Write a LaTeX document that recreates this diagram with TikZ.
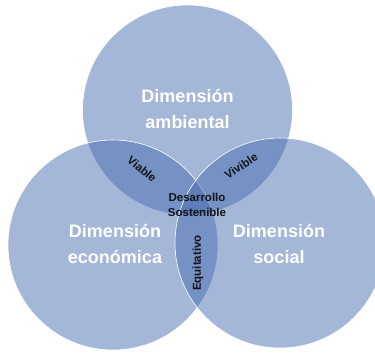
\documentclass[tikz,border=0pt]{standalone}
\usepackage{fontspec}
\setmainfont{Liberation Sans}
\definecolor{dimblue}{RGB}{67,104,174}
\definecolor{lensblack}{RGB}{20,20,25}
\begin{document}
\begin{tikzpicture}[x=1pt,y=-1pt,
    dimension/.style={fill=dimblue,fill opacity=0.48,draw=white,line width=0.6pt},
    dimlabel/.style={text=white,font=\bfseries\fontsize{18}{26}\selectfont,align=center},
    lenslabel/.style={text=lensblack,font=\bfseries\fontsize{11.5}{15}\selectfont,align=center}]
    \useasboundingbox (0,0) rectangle (375,353);
    \clip (0,0) rectangle (375,353);

    \filldraw[dimension] (187.5,110) circle [radius=105pt];
    \filldraw[dimension] (113,245) circle [radius=105pt];
    \filldraw[dimension] (280,243) circle [radius=105pt];

    \node[dimlabel] (ambiental) at (187.5,109) {Dimensión\\ambiental};
    \node[dimlabel] (economica) at (115,244) {Dimensión\\económica};
    \node[dimlabel] (social) at (279,244) {Dimensión\\social};

    \node[lenslabel,rotate=-40] (viable) at (142,169) {Viable};
    \node[lenslabel,rotate=33] (vivible) at (241,166) {Vivible};
    \node[lenslabel,rotate=90] (equitativo) at (198,263) {Equitativo};
    \node[lenslabel] (desarrollo) at (197,205) {Desarrollo\\Sostenible};
\end{tikzpicture}
\end{document}
